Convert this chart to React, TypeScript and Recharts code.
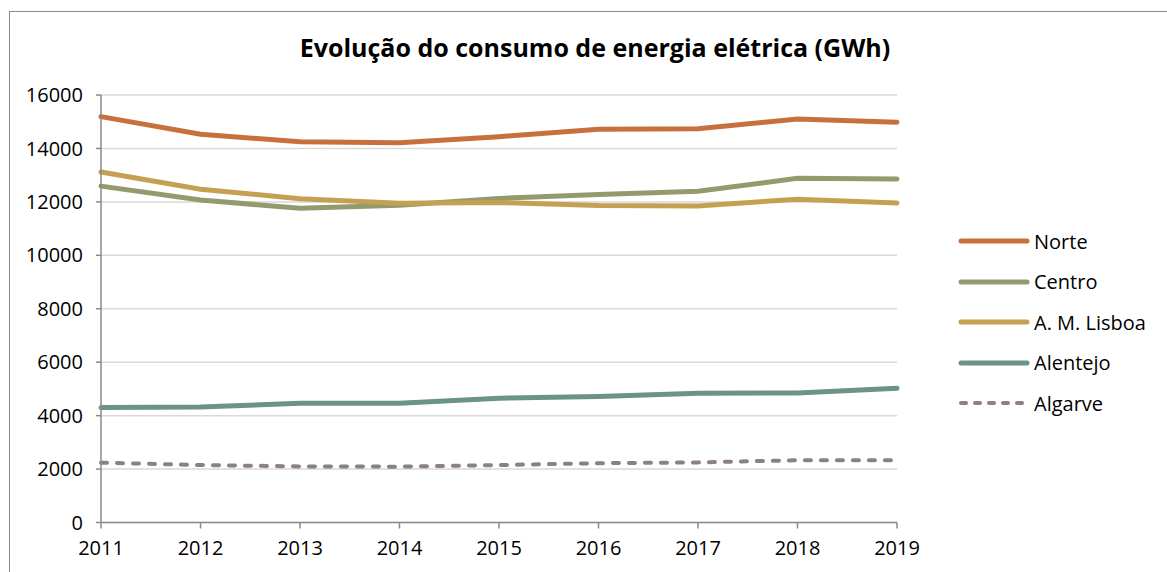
import * as React from "react";
import {
  LineChart,
  Line,
  XAxis,
  YAxis,
  CartesianGrid,
} from "recharts";

const years = ["2011", "2012", "2013", "2014", "2015", "2016", "2017", "2018", "2019"];
const norte = [15190, 14530, 14250, 14210, 14440, 14720, 14740, 15100, 14980];
const centro = [12590, 12070, 11760, 11870, 12130, 12280, 12400, 12880, 12860];
const lisboa = [13120, 12470, 12120, 11950, 11980, 11860, 11850, 12100, 11960];
const alentejo = [4300, 4320, 4460, 4460, 4650, 4720, 4840, 4850, 5020];
const algarve = [2240, 2150, 2100, 2090, 2150, 2220, 2250, 2330, 2330];
const yTicks = [0, 2000, 4000, 6000, 8000, 10000, 12000, 14000, 16000];

const TITLE = "Evolução do consumo de energia elétrica (GWh)";
const FONT = "'Open Sans', 'Noto Sans', sans-serif";

const series = [
  { key: "norte", name: "Norte", color: "#C8703D", width: 5 },
  { key: "centro", name: "Centro", color: "#939A6E", width: 5 },
  { key: "lisboa", name: "A. M. Lisboa", color: "#C6A052", width: 5 },
  { key: "alentejo", name: "Alentejo", color: "#6A9488", width: 5 },
  { key: "algarve", name: "Algarve", color: "#8C8080", width: 4, dash: "6 10" },
];

const data = years.map((year, i) => ({
  year,
  norte: norte[i],
  centro: centro[i],
  lisboa: lisboa[i],
  alentejo: alentejo[i],
  algarve: algarve[i],
}));

const tickStyle = { fontFamily: FONT, fontSize: 20, fill: "#000" };

function LegendBox() {
  return (
    <div style={{ display: "flex", flexDirection: "column" }}>
      {series.map((s) => (
        <div
          key={s.key}
          style={{ height: 40.5, display: "flex", alignItems: "center" }}
        >
          <svg width={76} height={10} style={{ display: "block" }}>
            <line
              x1={3}
              y1={5}
              x2={69}
              y2={5}
              stroke={s.color}
              strokeWidth={s.width}
              strokeLinecap="round"
              strokeDasharray={s.dash ? "5 9" : undefined}
            />
          </svg>
          <span style={{ fontFamily: FONT, fontSize: 20, color: "#000", whiteSpace: "nowrap" }}>
            {s.name}
          </span>
        </div>
      ))}
    </div>
  );
}

export default function App() {
  return (
    <div
      style={{
        position: "fixed",
        left: 0,
        top: 0,
        width: 1167,
        height: 572,
        overflow: "hidden",
        background: "#fff",
      }}
    >
      <div
        style={{
          position: "absolute",
          left: 9,
          top: 11,
          width: 1200,
          height: 620,
          border: "1.5px solid #8a8a8a",
        }}
      />
      <div
        style={{
          position: "absolute",
          left: 245,
          top: 29,
          width: 700,
          textAlign: "center",
          fontFamily: FONT,
          fontWeight: 700,
          fontSize: 25,
          lineHeight: "36px",
          color: "#000",
          whiteSpace: "nowrap",
        }}
      >
        {TITLE}
      </div>
      <div style={{ position: "absolute", left: 0, top: 0 }}>
        <LineChart
          width={1167}
          height={572}
          data={data}
          margin={{ top: 95, right: 270, bottom: 19.5, left: 31 }}
        >
          <CartesianGrid vertical={false} stroke="#d9d9d9" strokeWidth={1.5} />
          <XAxis
            dataKey="year"
            height={30}
            padding={{ left: 0, right: 0 }}
            tick={tickStyle}
            tickSize={6}
            tickMargin={12}
            axisLine={{ stroke: "#8a8a8a", strokeWidth: 1.5 }}
            tickLine={{ stroke: "#8a8a8a", strokeWidth: 1.5 }}
            interval={0}
          />
          <YAxis
            width={70}
            domain={[0, 16000]}
            ticks={yTicks}
            interval={0}
            tick={tickStyle}
            tickSize={5}
            tickMargin={13}
            axisLine={{ stroke: "#8a8a8a", strokeWidth: 1.5 }}
            tickLine={{ stroke: "#8a8a8a", strokeWidth: 1.5 }}
          />
          {series.map((s) => (
            <Line
              key={s.key}
              dataKey={s.key}
              name={s.name}
              stroke={s.color}
              strokeWidth={s.width}
              strokeDasharray={s.dash}
              strokeLinecap="round"
              dot={false}
              activeDot={false}
              isAnimationActive={false}
            />
          ))}
        </LineChart>
      </div>
      <div style={{ position: "absolute", left: 958, top: 221 }}>
        <LegendBox />
      </div>
    </div>
  );
}
